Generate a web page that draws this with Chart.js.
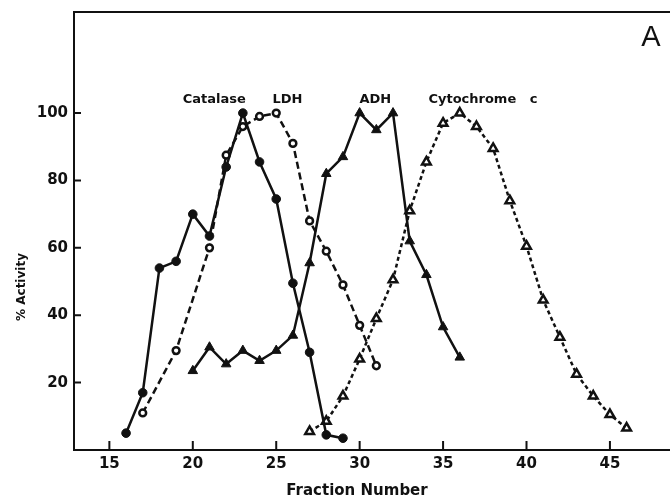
<!DOCTYPE html>
<html>
<head>
<meta charset="utf-8">
<script src="https://cdn.jsdelivr.net/npm/chart.js"></script>
<style>
  body { margin: 0; background: #fff; }
</style>
</head>
<body>
<canvas id="perfil" width="670" height="498"></canvas>
<script>
// tick positions
const fractionTicks = [15, 20, 25, 30, 35, 40, 45];
const activityTicks = [20, 40, 60, 80, 100];

// % activity per fraction, one pair of arrays per enzyme
const catalaseFraction = [16, 17, 18, 19, 20, 21, 22, 23, 24, 25, 26, 27, 28, 29];
const catalaseActivity = [5, 17, 54, 56, 70, 63.5, 84, 100, 85.5, 74.5, 49.5, 29, 4.5, 3.5];

const ldhFraction = [17, 19, 21, 22, 23, 24, 25, 26, 27, 28, 29, 30, 31];
const ldhActivity = [11, 29.5, 60, 87.5, 96, 99, 100, 91, 68, 59, 49, 37, 25];

const adhFraction = [20, 21, 22, 23, 24, 25, 26, 27, 28, 29, 30, 31, 32, 33, 34, 35, 36];
const adhActivity = [23.5, 30.5, 25.5, 29.5, 26.5, 29.5, 34, 55.5, 82, 87, 100, 95, 100, 62, 52, 36.5, 27.5];

const cytFraction = [27, 28, 29, 30, 31, 32, 33, 34, 35, 36, 37, 38, 39, 40, 41, 42, 43, 44, 45, 46];
const cytActivity = [5.5, 8.5, 16, 27, 39, 50.5, 71, 85.5, 97, 100, 96, 89.5, 74, 60.5, 44.5, 33.5, 22.5, 16, 10.5, 6.5];

const seriesNames = ['Catalase', 'LDH', 'ADH', 'Cytochrome   c'];

const ink = '#111';
const boldFont = 'DejaVu Sans';

function toPoints(xs, ys) {
    return xs.map((x, i) => ({ x: x, y: ys[i] }));
}

// frame top edge, inward ticks and the text labels
const frame = {
    id: 'frame',
    afterDraw(chart) {
        const ctx = chart.ctx;
        const area = chart.chartArea;
        const sx = chart.scales.x;
        const sy = chart.scales.y;

        ctx.save();
        ctx.strokeStyle = ink;
        ctx.lineWidth = 2;
        ctx.beginPath();
        ctx.moveTo(area.left, area.top);
        ctx.lineTo(area.right, area.top);
        ctx.stroke();

        ctx.beginPath();
        fractionTicks.forEach(v => {
            const px = sx.getPixelForValue(v);
            ctx.moveTo(px, area.bottom);
            ctx.lineTo(px, area.bottom - 9);
        });
        activityTicks.forEach(v => {
            const py = sy.getPixelForValue(v);
            ctx.moveTo(area.left, py);
            ctx.lineTo(area.left + 7, py);
        });
        ctx.stroke();

        // series names above the peaks
        const anchors = [[21.29, 103], [25.67, 103], [30.94, 103], [37.39, 103]];
        ctx.fillStyle = ink;
        ctx.font = 'bold 13px "' + boldFont + '"';
        ctx.textAlign = 'center';
        ctx.textBaseline = 'alphabetic';
        seriesNames.forEach((name, i) => {
            ctx.fillText(name, sx.getPixelForValue(anchors[i][0]), sy.getPixelForValue(anchors[i][1]));
        });

        // axis titles
        ctx.font = 'bold 15px "' + boldFont + '"';
        ctx.fillText('Fraction Number', 357, 495);

        ctx.save();
        ctx.translate(25, 287);
        ctx.rotate(-Math.PI / 2);
        ctx.font = 'bold 12px "' + boldFont + '"';
        ctx.fillText('% Activity', 0, 0);
        ctx.restore();

        // panel letter
        ctx.font = '29px "Liberation Sans"';
        ctx.fillText('A', 651, 46);
        ctx.restore();
    }
};

const tickFont = { family: boldFont, size: 15, weight: 'bold' };

const config = {
    type: 'line',
    data: {
        datasets: [
            {
                label: seriesNames[0],
                data: toPoints(catalaseFraction, catalaseActivity),
                borderColor: ink,
                borderWidth: 2.5,
                pointStyle: 'circle',
                pointRadius: 4.3,
                pointBackgroundColor: ink,
                pointBorderColor: ink,
                pointBorderWidth: 1,
                tension: 0
            },
            {
                label: seriesNames[1],
                data: toPoints(ldhFraction, ldhActivity),
                borderColor: ink,
                borderWidth: 2.5,
                borderDash: [7, 4],
                pointStyle: 'circle',
                pointRadius: 3.4,
                pointBackgroundColor: '#fff',
                pointBorderColor: ink,
                pointBorderWidth: 2.5,
                tension: 0
            },
            {
                label: seriesNames[2],
                data: toPoints(adhFraction, adhActivity),
                borderColor: ink,
                borderWidth: 2.5,
                pointStyle: 'triangle',
                pointRadius: 5.5,
                pointBackgroundColor: ink,
                pointBorderColor: ink,
                pointBorderWidth: 1,
                tension: 0
            },
            {
                label: seriesNames[3],
                data: toPoints(cytFraction, cytActivity),
                borderColor: ink,
                borderWidth: 2.5,
                borderDash: [4, 3],
                pointStyle: 'triangle',
                pointRadius: 5,
                pointBackgroundColor: '#fff',
                pointBorderColor: ink,
                pointBorderWidth: 2.5,
                tension: 0
            }
        ]
    },
    options: {
        responsive: false,
        animation: false,
        layout: { autoPadding: false, padding: { top: 12, right: 0, bottom: 0, left: 0 } },
        plugins: {
            legend: { display: false },
            tooltip: { enabled: false }
        },
        scales: {
            x: {
                type: 'linear',
                min: 12.88,
                max: 48.6,
                afterBuildTicks: s => { s.ticks = fractionTicks.map(v => ({ value: v })); },
                afterFit: s => {
                    s.height = 48;
                    s.paddingLeft = 0;
                    s.paddingRight = 0;
                },
                grid: { display: false, drawTicks: false, tickLength: 0 },
                border: { display: true, color: ink, width: 2 },
                ticks: { color: ink, font: tickFont, padding: 5, maxRotation: 0, autoSkip: false }
            },
            y: {
                type: 'linear',
                min: 0,
                max: 130,
                afterBuildTicks: s => { s.ticks = activityTicks.map(v => ({ value: v })); },
                afterFit: s => {
                    s.width = 74;
                    s.paddingTop = 0;
                    s.paddingBottom = 0;
                },
                grid: { display: false, drawTicks: false, tickLength: 0 },
                border: { display: true, color: ink, width: 2 },
                ticks: { color: ink, font: tickFont, padding: 6 }
            }
        }
    },
    plugins: [frame]
};

let perfil = new Chart(document.getElementById('perfil'), config);
</script>
</body>
</html>
